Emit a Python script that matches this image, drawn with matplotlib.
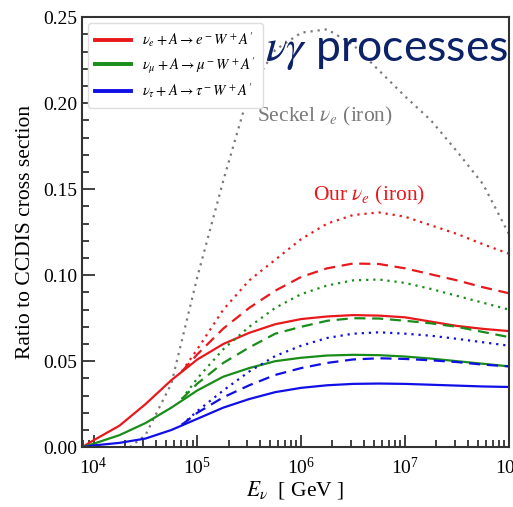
import numpy as np
import matplotlib
matplotlib.use("Agg")
import matplotlib.pyplot as plt
from matplotlib.ticker import LogLocator, MultipleLocator, NullFormatter, FormatStrFormatter

plt.rcParams["font.family"] = ["Liberation Serif", "DejaVu Serif"]
plt.rcParams["mathtext.fontset"] = "stix"

# log10(E / GeV) grids
LOGE_SOLID = [3.89, 4.0, 4.25, 4.5, 4.75, 5.0, 5.25, 5.5, 5.75, 6.0, 6.25,
              6.5, 6.75, 7.0, 7.25, 7.5, 7.75, 8.0]
LOGE_VAR = [4.85, 5.0, 5.25, 5.5, 5.75, 6.0, 6.25, 6.5, 6.75, 7.0, 7.25,
            7.5, 7.75, 8.0]
LOGE_SECKEL = [4.35, 4.5, 4.75, 5.0, 5.25, 5.5, 5.75, 6.0, 6.25, 6.5, 6.75,
               7.0, 7.25, 7.5, 7.75, 8.0]

# ratio to CCDIS, solid = baseline
e_solid = [0.0, 0.004, 0.0125, 0.025, 0.039, 0.051, 0.060, 0.0665, 0.0715,
           0.0745, 0.076, 0.0768, 0.0765, 0.0755, 0.073, 0.0705, 0.0688, 0.0675]
mu_solid = [0.0, 0.002, 0.007, 0.014, 0.023, 0.033, 0.041, 0.046, 0.050, 0.052,
            0.0533, 0.0537, 0.0535, 0.0527, 0.0515, 0.050, 0.0485, 0.047]
tau_solid = [0.0, 0.001, 0.0025, 0.005, 0.010, 0.0165, 0.023, 0.028, 0.032,
             0.0345, 0.036, 0.0368, 0.037, 0.0368, 0.0363, 0.0358, 0.0353, 0.035]

e_dash = [0.044, 0.054, 0.069, 0.081, 0.091, 0.099, 0.104, 0.1068, 0.1065,
          0.104, 0.1005, 0.097, 0.093, 0.0895]
mu_dash = [0.028, 0.037, 0.049, 0.058, 0.066, 0.070, 0.0735, 0.075, 0.0748,
           0.0735, 0.072, 0.070, 0.067, 0.064]
tau_dash = [0.013, 0.020, 0.029, 0.036, 0.042, 0.046, 0.049, 0.051, 0.0517,
            0.0513, 0.0505, 0.0495, 0.048, 0.047]

e_dot = [0.044, 0.057, 0.080, 0.097, 0.109, 0.121, 0.130, 0.135, 0.1365,
         0.134, 0.129, 0.124, 0.118, 0.1125]
mu_dot = [0.028, 0.040, 0.057, 0.070, 0.081, 0.089, 0.094, 0.097, 0.0975,
          0.0955, 0.092, 0.088, 0.084, 0.080]
tau_dot = [0.013, 0.021, 0.033, 0.044, 0.053, 0.059, 0.0635, 0.066, 0.0668,
           0.066, 0.0648, 0.063, 0.061, 0.059]

seckel_e = [0.0, 0.007, 0.037, 0.099, 0.155, 0.207, 0.231, 0.241, 0.243,
            0.234, 0.219, 0.204, 0.190, 0.172, 0.153, 0.124]

LABELS = [r"$\nu_e+A\rightarrow e^-W^+A^\prime$",
          r"$\nu_\mu+A\rightarrow \mu^-W^+A^\prime$",
          r"$\nu_\tau+A\rightarrow \tau^-W^+A^\prime$"]
COLORS = ["#e8191c", "#1a8c1a", "#1010e6"]
GRAY = "#7a7a7a"

E_solid = 10 ** np.array(LOGE_SOLID)
E_var = 10 ** np.array(LOGE_VAR)
E_seckel = 10 ** np.array(LOGE_SECKEL)

fig = plt.figure(figsize=(5.13, 5.07), dpi=100)
ax = fig.add_axes([0.160, 0.118, 0.832, 0.848])

ax.plot(E_seckel, seckel_e, color=GRAY, lw=1.6, linestyle=(0, (1, 2.2)))

for solid, dash, dot, c, lab in zip([e_solid, mu_solid, tau_solid],
                                    [e_dash, mu_dash, tau_dash],
                                    [e_dot, mu_dot, tau_dot], COLORS, LABELS):
    ax.plot(E_solid, solid, color=c, lw=1.6, label=lab)
    ax.plot(E_var, dash, color=c, lw=1.6, linestyle=(0, (5, 3)))
    ax.plot(E_var, dot, color=c, lw=1.6, linestyle=(0, (1, 2.2)))

ax.set_xscale("log")
ax.set_xlim(10 ** 3.89, 1e8)
ax.set_ylim(0, 0.25)
ax.yaxis.set_major_locator(MultipleLocator(0.05))
ax.yaxis.set_minor_locator(MultipleLocator(0.01))
ax.yaxis.set_major_formatter(FormatStrFormatter("%.2f"))
ax.xaxis.set_major_locator(LogLocator(base=10, numticks=10))
ax.xaxis.set_minor_locator(LogLocator(base=10, subs=np.arange(2, 10), numticks=20))
ax.xaxis.set_minor_formatter(NullFormatter())

ax.tick_params(which="both", direction="in", top=False, right=False,
               labelsize=14, width=1.3, color="#333333")
ax.tick_params(which="major", length=9)
ax.tick_params(which="minor", length=5)
ax.tick_params(axis="x", pad=7)
for sp in ax.spines.values():
    sp.set_linewidth(1.5)
    sp.set_color("#333333")

ax.set_ylabel("Ratio to CCDIS cross section", fontsize=15.5, labelpad=6)
ax.set_xlabel(r"$E_\nu$  [ GeV ]", fontsize=15.5, labelpad=1)

ax.text(10 ** 5.57, 0.192, r"Seckel $\nu_e$ (iron)", color=GRAY,
        fontsize=15.5, va="center")
ax.text(10 ** 6.11, 0.1465, r"Our $\nu_e$ (iron)", color=COLORS[0],
        fontsize=15.5, va="center")

leg = ax.legend(loc="upper left", fontsize=10.6, handlelength=2.4,
                borderaxespad=0.4, frameon=True, edgecolor="#dddddd",
                framealpha=1, labelspacing=0.4, borderpad=0.5)
for line in leg.get_lines():
    line.set_linewidth(2.8)

fig.text(0.517, 0.880, r"$\nu\gamma$ processes", color="#0c2268",
         fontsize=32, family=["Lato", "DejaVu Sans"], va="baseline")

fig.savefig("out.png", dpi=100)
